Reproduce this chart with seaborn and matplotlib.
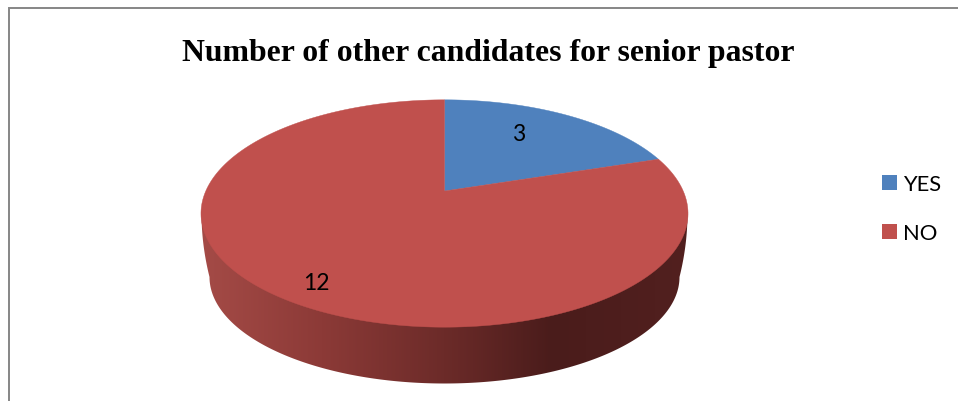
import numpy as np
import matplotlib
matplotlib.use("Agg")
import matplotlib.pyplot as plt
from matplotlib.colors import LinearSegmentedColormap
from matplotlib.patches import Patch, Polygon
import seaborn as sns

# Chart content
title = "Number of other candidates for senior pastor"
categories = ["YES", "NO"]
counts = [3, 12]
slice_colors = ["#4F81BD", "#C0504D"]

sns.set_theme(style="white")
plt.rcParams["font.family"] = ["Lato", "DejaVu Sans"]

fig = plt.figure(figsize=(9.58, 4.02), dpi=100)
ax = fig.add_axes([0, 0, 1, 1])
ax.axis("off")

# Thin frame: only the left and top edges fall inside the canvas
ax.plot([9, 9, 958], [402, 8.5, 8.5], color="#868686", lw=1.4, solid_joinstyle="miter")

ax.text(488, 53, title, ha="center", va="center", fontsize=22.9,
        fontweight="bold", family=["Liberation Serif"], color="black")

# Tilted disc: a unit circle seen through a projective transform
CX, APEX_Y = 444.5, 192.0
PERSP, Y_GAIN, X_GAIN = 0.198, -71.2, 238.7


def project(theta):
    """Map a clockwise angle from 12 o'clock to a point on the disc's rim."""
    x, y = np.sin(theta), np.cos(theta)
    w = 1 + PERSP * y
    return CX + X_GAIN * x / w, (Y_GAIN * y + APEX_Y) / w


# Side wall, shaded from left to right and clipped to the rim outline
wall_cmap = LinearSegmentedColormap.from_list(
    "wall",
    [(0.0, "#A54B47"), (0.25, "#8C3A37"), (0.5, "#6C2B29"),
     (0.72, "#4A1C1B"), (1.0, "#52201F")],
)
sweep = np.linspace(0, np.pi, 200)
rim_x = CX - 235 * np.cos(sweep)
rim_y = 278 + 106.5 * np.sin(sweep)
rise = np.linspace(0, 1, 30)
left_x = 201.5 + 8 * rise ** 2
left_y = 214 + 64 * rise
right_x = 2 * CX - left_x
wall_xy = np.column_stack([
    np.r_[left_x, rim_x, right_x[::-1]],
    np.r_[left_y, rim_y, left_y[::-1]],
])
wall_shape = Polygon(wall_xy, closed=True, facecolor="none", edgecolor="none")
ax.add_patch(wall_shape)
gradient = ax.imshow(np.linspace(0, 1, 512)[None, :], cmap=wall_cmap, aspect="auto",
                     extent=(199, 690, 392, 205), zorder=1)
gradient.set_clip_path(wall_shape)
ax.set_xlim(0, 958)
ax.set_ylim(402, 0)

# Top face: wedges run clockwise from 12 o'clock in proportion to the counts
edges = np.r_[0, np.cumsum(counts)] / np.sum(counts) * 2 * np.pi
for start, stop, color in zip(edges[:-1], edges[1:], slice_colors):
    px, py = project(np.linspace(start, stop, 300))
    ax.add_patch(Polygon(np.column_stack([np.r_[CX, px], np.r_[APEX_Y, py]]),
                         closed=True, facecolor=color, edgecolor=color, lw=0.3, zorder=2))

# Value labels
label_xy = [(519, 135), (316.5, 284)]
for value, (lx, ly) in zip(counts, label_xy):
    ax.text(lx, ly, str(value), ha="center", va="center", fontsize=16.5,
            color="black", zorder=3)

handles = [Patch(facecolor=c, edgecolor="none") for c in slice_colors]
ax.legend(handles, categories, loc="center left", bbox_to_anchor=(882 / 958, 1 - 209.5 / 402),
          frameon=False, fontsize=15.8, handlelength=0.68, handleheight=0.68,
          handletextpad=0.28, labelspacing=1.32, borderpad=0, borderaxespad=0,
          labelcolor="black")

fig.savefig("out.png", dpi=100)
